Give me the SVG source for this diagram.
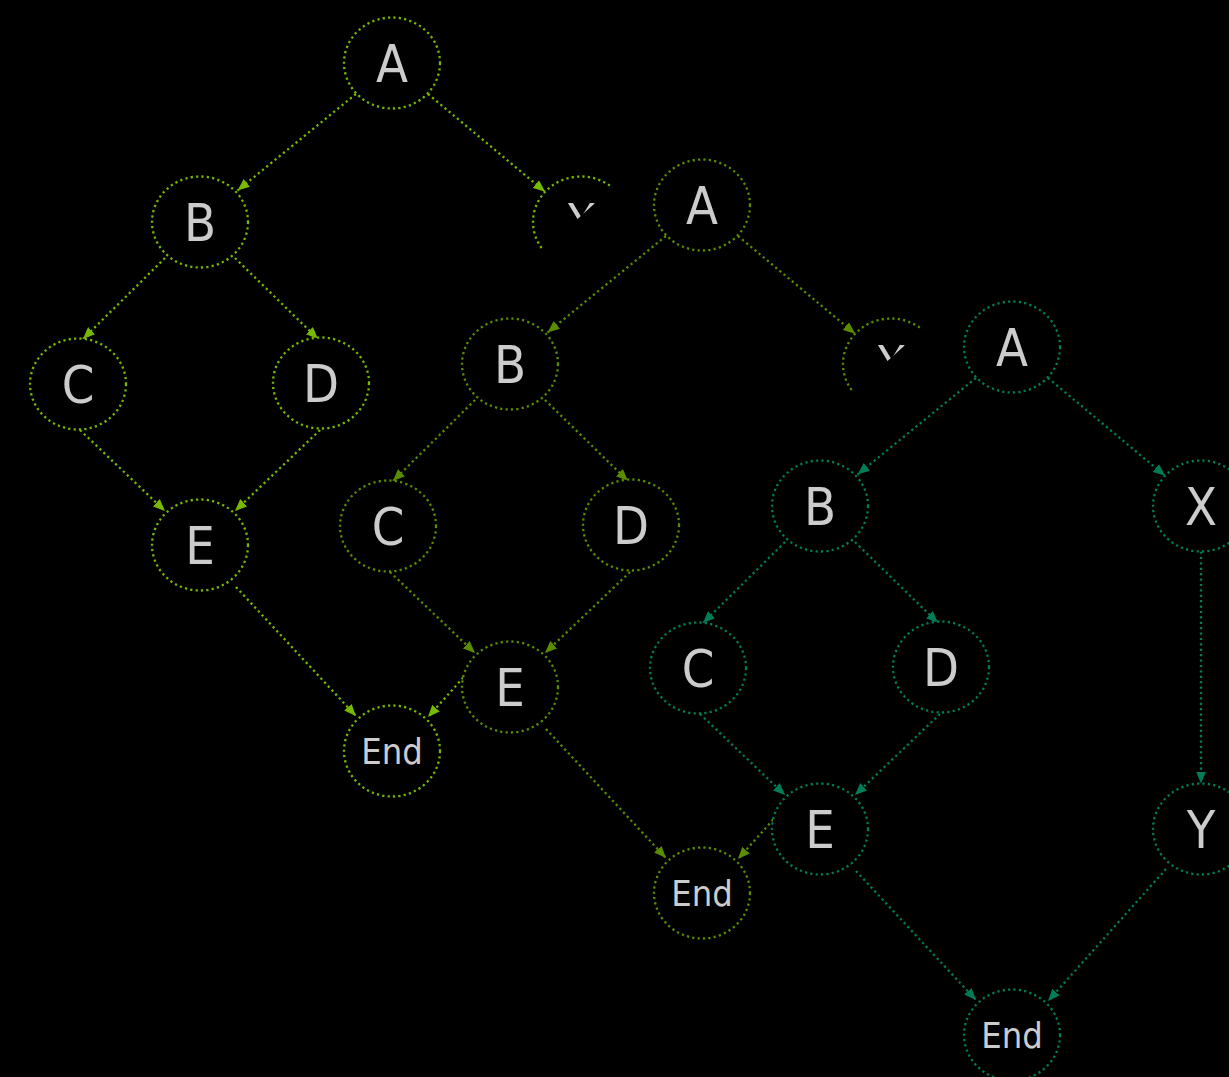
<svg xmlns="http://www.w3.org/2000/svg" xmlns:xlink="http://www.w3.org/1999/xlink" width="1229" height="1077" viewBox="0 0 1229 1077">
<style>
.bg{fill:#000}
.occ{fill:#000;stroke:none}
.n{fill:#000;stroke-width:2.3;stroke-dasharray:2.2 3.2}
.e{fill:none;stroke-width:2.3;stroke-dasharray:2.2 3.2}
.l1 .n,.l1 .e{stroke:#76b900}
.l2 .n,.l2 .e{stroke:#5a8c00}
.l3 .n,.l3 .e{stroke:#007d58}
.t{font-family:"DejaVu Sans Condensed","DejaVu Sans",sans-serif;font-stretch:condensed;fill:#cccccc;text-anchor:middle;font-size:52px}
.t.s{font-size:36px}
</style>
<defs>
<marker id="m1" viewBox="0 0 12 10" refX="12" refY="5" markerWidth="12" markerHeight="10" markerUnits="userSpaceOnUse" orient="auto"><path d="M0,0 L12,5 L0,10 z" fill="#76b900"/></marker>
<marker id="m2" viewBox="0 0 12 10" refX="12" refY="5" markerWidth="12" markerHeight="10" markerUnits="userSpaceOnUse" orient="auto"><path d="M0,0 L12,5 L0,10 z" fill="#5a8c00"/></marker>
<marker id="m3" viewBox="0 0 12 10" refX="12" refY="5" markerWidth="12" markerHeight="10" markerUnits="userSpaceOnUse" orient="auto"><path d="M0,0 L12,5 L0,10 z" fill="#007d58"/></marker>
<polygon id="occ" points="390,-34 187,150 148,513 199,558 460,558 460,-34"/>
</defs>
<rect class="bg" x="0" y="0" width="1229" height="1077"/>

<g id="layer1" class="l1">
  <g id="l1-connectors" marker-end="url(#m1)">
    <path class="e" d="M355.9,94 L237.5,190.5"/>
    <path class="e" d="M428,94 L545.1,191.8"/>
    <path class="e" d="M165,258 L83,339"/>
    <path class="e" d="M235,258 L318,339"/>
    <path class="e" d="M80,430 L165,511"/>
    <path class="e" d="M320,430 L235,511"/>
    <path class="e" d="M236,587 L356,716"/>
    <path class="e" d="M581,267.5 L581,499.5"/>
    <path class="e" d="M546,585 L428,717"/>
  </g>
  <g id="l1-A"><ellipse class="n" cx="392" cy="63" rx="48" ry="45.5"/><text class="t" x="392" y="82">A</text></g>
  <g id="l1-B"><ellipse class="n" cx="200" cy="222" rx="48" ry="45.5"/><text class="t" x="200" y="241">B</text></g>
  <g id="l1-X"><ellipse class="n" cx="581" cy="222" rx="48" ry="45.5"/><text class="t" x="581" y="241">X</text></g>
  <g id="l1-C"><ellipse class="n" cx="78" cy="384" rx="48" ry="45.5"/><text class="t" x="78" y="403">C</text></g>
  <g id="l1-D"><ellipse class="n" cx="321" cy="383" rx="48" ry="45.5"/><text class="t" x="321" y="402">D</text></g>
  <g id="l1-E"><ellipse class="n" cx="200" cy="545" rx="48" ry="45.5"/><text class="t" x="200" y="564">E</text></g>
  <g id="l1-Y"><ellipse class="n" cx="581" cy="545" rx="48" ry="45.5"/><text class="t" x="581" y="564">Y</text></g>
  <g id="l1-End"><ellipse class="n" cx="392" cy="751" rx="48" ry="45.5"/><text class="t s" x="392" y="764">End</text></g>
</g>

<g id="layer2" class="l2" transform="translate(310,142)">
  <use xlink:href="#occ" class="occ"/>
  <g id="l2-connectors" marker-end="url(#m2)">
    <path class="e" d="M355.9,94 L237.5,190.5"/>
    <path class="e" d="M428,94 L545.1,191.8"/>
    <path class="e" d="M165,258 L83,339"/>
    <path class="e" d="M235,258 L318,339"/>
    <path class="e" d="M80,430 L165,511"/>
    <path class="e" d="M320,430 L235,511"/>
    <path class="e" d="M236,587 L356,716"/>
    <path class="e" d="M581,267.5 L581,499.5"/>
    <path class="e" d="M546,585 L428,717"/>
  </g>
  <g id="l2-A"><ellipse class="n" cx="392" cy="63" rx="48" ry="45.5"/><text class="t" x="392" y="82">A</text></g>
  <g id="l2-B"><ellipse class="n" cx="200" cy="222" rx="48" ry="45.5"/><text class="t" x="200" y="241">B</text></g>
  <g id="l2-X"><ellipse class="n" cx="581" cy="222" rx="48" ry="45.5"/><text class="t" x="581" y="241">X</text></g>
  <g id="l2-C"><ellipse class="n" cx="78" cy="384" rx="48" ry="45.5"/><text class="t" x="78" y="403">C</text></g>
  <g id="l2-D"><ellipse class="n" cx="321" cy="383" rx="48" ry="45.5"/><text class="t" x="321" y="402">D</text></g>
  <g id="l2-E"><ellipse class="n" cx="200" cy="545" rx="48" ry="45.5"/><text class="t" x="200" y="564">E</text></g>
  <g id="l2-Y"><ellipse class="n" cx="581" cy="545" rx="48" ry="45.5"/><text class="t" x="581" y="564">Y</text></g>
  <g id="l2-End"><ellipse class="n" cx="392" cy="751" rx="48" ry="45.5"/><text class="t s" x="392" y="764">End</text></g>
</g>

<g id="layer3" class="l3" transform="translate(620,284)">
  <use xlink:href="#occ" class="occ"/>
  <g id="l3-connectors" marker-end="url(#m3)">
    <path class="e" d="M355.9,94 L237.5,190.5"/>
    <path class="e" d="M428,94 L545.1,191.8"/>
    <path class="e" d="M165,258 L83,339"/>
    <path class="e" d="M235,258 L318,339"/>
    <path class="e" d="M80,430 L165,511"/>
    <path class="e" d="M320,430 L235,511"/>
    <path class="e" d="M236,587 L356,716"/>
    <path class="e" d="M581,267.5 L581,499.5"/>
    <path class="e" d="M546,585 L428,717"/>
  </g>
  <g id="l3-A"><ellipse class="n" cx="392" cy="63" rx="48" ry="45.5"/><text class="t" x="392" y="82">A</text></g>
  <g id="l3-B"><ellipse class="n" cx="200" cy="222" rx="48" ry="45.5"/><text class="t" x="200" y="241">B</text></g>
  <g id="l3-X"><ellipse class="n" cx="581" cy="222" rx="48" ry="45.5"/><text class="t" x="581" y="241">X</text></g>
  <g id="l3-C"><ellipse class="n" cx="78" cy="384" rx="48" ry="45.5"/><text class="t" x="78" y="403">C</text></g>
  <g id="l3-D"><ellipse class="n" cx="321" cy="383" rx="48" ry="45.5"/><text class="t" x="321" y="402">D</text></g>
  <g id="l3-E"><ellipse class="n" cx="200" cy="545" rx="48" ry="45.5"/><text class="t" x="200" y="564">E</text></g>
  <g id="l3-Y"><ellipse class="n" cx="581" cy="545" rx="48" ry="45.5"/><text class="t" x="581" y="564">Y</text></g>
  <g id="l3-End"><ellipse class="n" cx="392" cy="751" rx="48" ry="45.5"/><text class="t s" x="392" y="764">End</text></g>
</g>
</svg>
